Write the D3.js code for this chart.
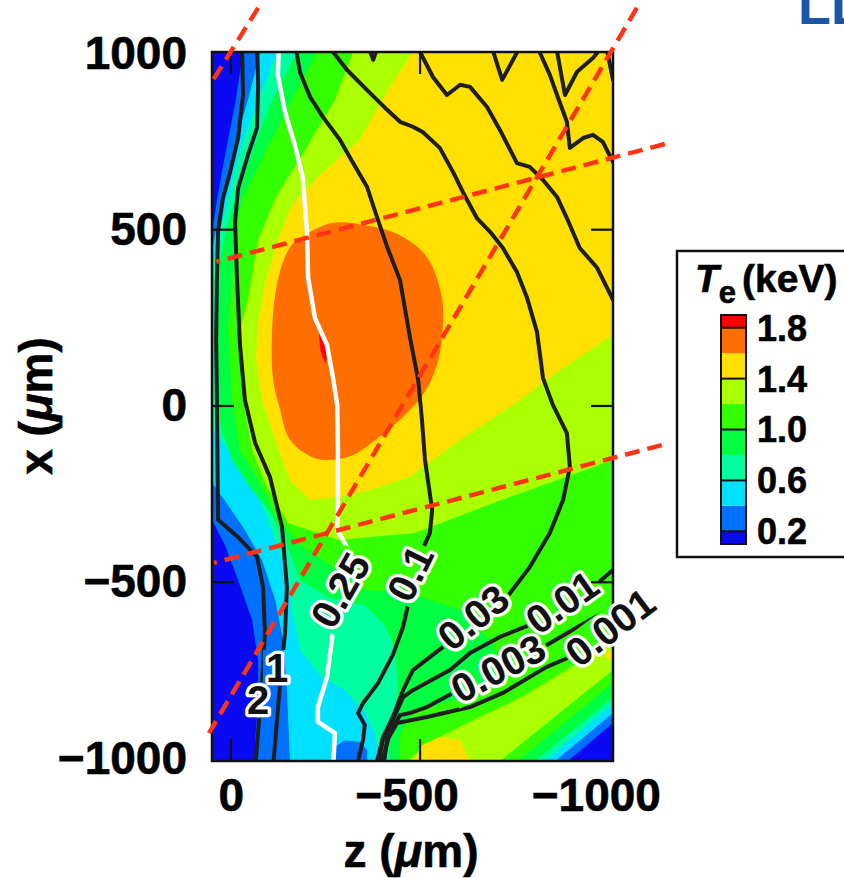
<!DOCTYPE html>
<html>
<head>
<meta charset="utf-8">
<script src="https://cdn.jsdelivr.net/npm/d3@7"></script>
<style>
  body { margin: 0; background: #fff; }
  svg { display: block; font-family: "Liberation Sans", Arial, sans-serif; font-weight: bold; }
  .heavy text, text.heavy { stroke: #000; stroke-width: 0.6px; }
</style>
</head>
<body>
<svg></svg>
<script>
// Te levels (keV) and the colour of each band (index 0 = below first level)
const levels = [0.2, 0.4, 0.6, 0.8, 1.0, 1.2, 1.4, 1.6, 1.8];
const bandColors = ["#0a0af2", "#0070ff", "#00e0ff", "#00ffa0", "#00ff40", "#33ff00", "#aaff00", "#ffe000", "#ff6e00", "#ff0000"];
const legendLabels = [1.8, 1.4, 1.0, 0.6, 0.2];

// Regions where Te >= level, as rings of [z, x] in um
const te02 = [
  [[-32,1038],[-32,1004],[-13,868],[13,726],[37,584],[47,514],[82,471],[82,-281],[50,-323],[16,-394],[-19,-494],[-56,-607],[-72,-721],[-72,-834],[-64,-948],[-72,-1047],[-891,-1047],[-891,-1007],[-1010,-899],[-1042,-899],[-1042,1038]]
];
const te04 = [
  [[-77,1038],[-77,1004],[-45,868],[-6,726],[18,584],[39,499],[50,443],[82,414],[82,-182],[50,-218],[8,-281],[-37,-352],[-82,-437],[-117,-550],[-138,-664],[-148,-806],[-156,-1007],[-156,-1047],[-262,-1047],[-270,-970],[-302,-948],[-341,-953],[-360,-976],[-360,-1047],[-857,-1047],[-857,-1007],[-1010,-871],[-1042,-871],[-1042,1038]]
];
const te06 = [
  [[-122,1038],[-122,1004],[-72,868],[-24,726],[8,584],[29,499],[45,414],[82,386],[82,-40],[50,-60],[16,-111],[-24,-167],[-77,-267],[-117,-380],[-151,-479],[-161,-579],[-183,-692],[-235,-763],[-302,-806],[-354,-868],[-381,-933],[-394,-1007],[-394,-1047],[-830,-1047],[-830,-1007],[-1010,-843],[-1042,-843],[-1042,1038]]
];
const te08 = [
  [[-175,1038],[-175,1004],[-109,868],[-58,726],[-11,584],[13,499],[29,414],[39,216],[39,17],[24,-68],[-3,-153],[-50,-230],[-103,-301],[-143,-380],[-183,-494],[-262,-545],[-354,-565],[-407,-621],[-434,-692],[-442,-806],[-426,-891],[-415,-962],[-420,-1007],[-420,-1047],[-804,-1047],[-804,-1007],[-1010,-826],[-1042,-826],[-1042,1038]]
];
const te10 = [
  [[-228,1038],[-228,1004],[-161,868],[-93,726],[-29,584],[-13,499],[-3,357],[8,216],[-3,17],[-24,-125],[-72,-210],[-117,-309],[-183,-394],[-288,-471],[-354,-522],[-473,-531],[-606,-579],[-693,-672],[-711,-749],[-677,-814],[-560,-843],[-473,-877],[-447,-933],[-447,-1047],[-759,-1047],[-759,-1007],[-1010,-786],[-1042,-786],[-1042,1038]]
];
const te12 = [
  [[-323,1038],[-323,1004],[-275,868],[-196,726],[-119,593],[-72,471],[-45,301],[-24,216],[-32,17],[-56,-125],[-90,-218],[-151,-332],[-283,-380],[-486,-360],[-737,-258],[-1010,-153],[-1042,-153],[-1042,1038]],
  [[-468,-1047],[-468,-1007],[-526,-953],[-632,-896],[-764,-828],[-896,-743],[-1010,-664],[-1042,-664],[-1042,-749],[-1010,-749],[-711,-1007],[-711,-1047]]
];
const te14 = [
  [[-481,1038],[-481,1004],[-415,896],[-341,755],[-235,655],[-161,570],[-124,471],[-93,357],[-72,244],[-66,131],[-82,17],[-117,-96],[-156,-210],[-209,-267],[-288,-258],[-368,-238],[-473,-201],[-606,-96],[-745,3],[-870,102],[-1010,201],[-1042,201],[-1042,1038]],
  [[-481,-1047],[-481,-1007],[-505,-962],[-552,-939],[-606,-948],[-632,-1007],[-632,-1047]],
  [[-986,-709],[-1010,-684],[-1042,-684],[-1042,-726],[-1010,-726]]
];
const te16 = [
  [[-161,457],[-196,485],[-267,519],[-347,514],[-426,494],[-486,457],[-526,409],[-558,306],[-560,221],[-545,116],[-507,31],[-460,-26],[-399,-82],[-309,-145],[-222,-148],[-156,-96],[-130,-11],[-111,79],[-109,216],[-117,315],[-135,400]]
];
const te18 = [
  [[-235,210],[-249,179],[-251,122],[-238,153]]
];
const teRegions = [te02, te04, te06, te08, te10, te12, te14, te16, te18];

// Black contour lines of the second quantity, [z, x] in um
const line2 = [[-29,1030],[-32,882],[-19,760],[2,664],[21,590],[34,494],[37,363],[39,187],[37,17],[34,-323],[-19,-372],[-69,-428],[-85,-514],[-90,-644],[-82,-786],[-64,-1030]];
const line1 = [[-69,1030],[-72,911],[-69,789],[-45,712],[-19,618],[-11,522],[-16,363],[-24,173],[-37,17],[-64,-105],[-103,-201],[-135,-343],[-148,-514],[-143,-644],[-130,-786],[-111,-1030]];
const line025 = [[-127,1030],[-124,939],[-143,834],[-169,740],[-190,647],[-201,494],[-204,363],[-222,250],[-254,173],[-270,79],[-281,3],[-283,-125],[-283,-267],[-281,-352],[-296,-380],[-315,-417],[-270,-621],[-267,-664],[-254,-769],[-230,-854],[-230,-896],[-275,-928],[-270,-1030]];
const line01 = [[-169,1030],[-183,945],[-209,877],[-243,820],[-288,755],[-323,689],[-360,621],[-386,536],[-413,451],[-447,357],[-473,196],[-495,74],[-505,-40],[-513,-153],[-532,-295],[-526,-360],[-500,-423],[-473,-542],[-455,-627],[-428,-706],[-389,-786],[-349,-843],[-336,-871],[-354,-905],[-349,-948],[-331,-1030]];
const line003 = [[-262,1030],[-270,1004],[-307,953],[-360,896],[-413,840],[-447,806],[-481,792],[-507,777],[-552,732],[-587,664],[-613,607],[-650,533],[-685,494],[-719,448],[-756,380],[-783,306],[-809,210],[-825,79],[-851,3],[-888,-77],[-896,-173],[-878,-267],[-843,-360],[-790,-457],[-730,-542],[-560,-684],[-481,-749],[-455,-806],[-428,-882],[-402,-939],[-381,-1030]];
const line001Top = [[-495,1030],[-500,1004],[-534,933],[-571,882],[-606,911],[-632,905],[-677,848],[-711,783],[-756,689],[-790,678],[-825,641],[-862,593],[-888,533],[-922,448],[-968,392],[-1010,301],[-1040,250]];
const line001Bottom = [[-1040,-420],[-1010,-465],[-957,-514],[-790,-621],[-711,-655],[-632,-701],[-579,-749],[-481,-806],[-455,-826],[-428,-891],[-402,-948],[-386,-1030]];
const line0003 = [[-1040,-540],[-1010,-570],[-904,-635],[-835,-678],[-706,-743],[-587,-814],[-518,-854],[-473,-871],[-447,-877],[-420,-928],[-394,-1030]];
const line0001 = [[-1040,-610],[-1010,-644],[-896,-712],[-835,-740],[-719,-814],[-632,-854],[-518,-882],[-439,-899],[-413,-948],[-402,-1030]];
const lineTopV1 = [[-686,1030],[-717,925],[-770,1030]];
const lineTopJ = [[-805,1030],[-843,939],[-862,882],[-888,806],[-896,732],[-931,760],[-957,769],[-983,749],[-1010,692],[-1040,640]];
const lineTopV2 = [[-858,1030],[-883,882],[-915,948],[-957,987],[-990,1030]];
const lineTopEdge = [[-990,1030],[-1010,925]];
const lineTopNotch = [[-360,1030],[-376,982],[-392,1030]];
const blackLines = [line2, line1, line01, line003, line001Top, line001Bottom, line0003, line0001, lineTopV1, lineTopJ, lineTopV2, lineTopEdge, lineTopNotch];

// Contour labels
const labelText = ["0.25", "0.1", "0.03", "0.01", "0.003", "0.001", "1", "2"];
const labelZ = [-288, -473, -640, -875, -706, -1002, -122, -72];
const labelX = [-522, -474, -599, -556, -743, -627, -743, -834];
const labelAngle = [-60, -64, -39, -35, -28, -37, 0, 0];

// Red dashed sight lines, endpoints [z, x]
const dashLines = [
  [[-72,1129],[47,925]],
  [[-1073,1129],[58,-928]],
  [[-1139,-111],[45,-445]],
  [[-1147,743],[39,409]]
];

const zTicks = [0, -500, -1000];
const xTicks = [1000, 500, 0, -500, -1000];

const width = 844, height = 878;
const svg = d3.select("svg").attr("width", width).attr("height", height);

const zScale = d3.scaleLinear().domain([50, -1010]).range([212, 613]);
const xScale = d3.scaleLinear().domain([-1007, 1004]).range([761, 52]);
const [plotLeft, plotRight] = zScale.range();
const [plotBottom, plotTop] = xScale.range();

const defs = svg.append("defs");
defs.append("clipPath").attr("id", "plotClip")
  .append("rect").attr("x", plotLeft).attr("y", plotTop).attr("width", plotRight - plotLeft).attr("height", plotBottom - plotTop);
const mask = defs.append("mask").attr("id", "labelMask")
  .attr("maskUnits", "userSpaceOnUse").attr("x", 0).attr("y", 0).attr("width", width).attr("height", height);
mask.append("rect").attr("width", width).attr("height", height).attr("fill", "#fff");

const path = d3.line().x((d) => zScale(d[0])).y((d) => xScale(d[1]));
const smoothRing = d3.line().x((d) => zScale(d[0])).y((d) => xScale(d[1])).curve(d3.curveCatmullRomClosed.alpha(0.5));

// filled Te bands
const plot = svg.append("g").attr("clip-path", "url(#plotClip)");
plot.append("rect").attr("x", plotLeft).attr("y", plotTop).attr("width", plotRight - plotLeft).attr("height", plotBottom - plotTop)
  .attr("fill", bandColors[0]);
teRegions.forEach((rings, i) => {
  rings.forEach((ring) => {
    plot.append("path")
      .attr("d", i >= 7 ? smoothRing(ring) : path(ring) + "Z")
      .attr("fill", bandColors[i + 1]);
  });
});

// contour lines
const lineLayer = plot.append("g").attr("mask", "url(#labelMask)").attr("fill", "none")
  .attr("stroke-linejoin", "round").attr("stroke-linecap", "round");
blackLines.forEach((l) => {
  lineLayer.append("path").attr("d", path(l)).attr("stroke", "#1e1e1e").attr("stroke-width", 4);
});
lineLayer.append("path").attr("d", path(line025)).attr("stroke", "#fff").attr("stroke-width", 4.5);

// frame and inner ticks
svg.append("rect").attr("x", plotLeft).attr("y", plotTop).attr("width", plotRight - plotLeft).attr("height", plotBottom - plotTop)
  .attr("fill", "none").attr("stroke", "#111").attr("stroke-width", 2.5);
const tickLen = 22;
const ticks = svg.append("g").attr("stroke", "#111").attr("stroke-width", 2.2);
xTicks.filter((v) => Math.abs(v) < 1000).forEach((v) => {
  const y = xScale(v);
  ticks.append("line").attr("x1", plotLeft).attr("x2", plotLeft + tickLen).attr("y1", y).attr("y2", y);
  ticks.append("line").attr("x1", plotRight - tickLen).attr("x2", plotRight).attr("y1", y).attr("y2", y);
});
zTicks.filter((v) => Math.abs(v) < 1000).forEach((v) => {
  const x = zScale(v);
  ticks.append("line").attr("x1", x).attr("x2", x).attr("y1", plotTop).attr("y2", plotTop + tickLen);
  ticks.append("line").attr("x1", x).attr("x2", x).attr("y1", plotBottom - tickLen).attr("y2", plotBottom);
});

// dashed lines
const dashes = svg.append("g").attr("stroke", "#ff3414").attr("stroke-width", 4.5)
  .attr("stroke-dasharray", "15,8").attr("fill", "none");
dashLines.forEach((d) => dashes.append("path").attr("d", path(d)));

// contour labels (with gaps cut in the lines)
const labelSize = 40;
const labels = svg.append("g").attr("font-size", labelSize);
labelText.forEach((t, i) => {
  const tr = `translate(${zScale(labelZ[i])},${xScale(labelX[i])}) rotate(${labelAngle[i]})`;
  const txt = labels.append("text").attr("transform", tr).attr("text-anchor", "middle").attr("dy", "0.36em")
    .attr("fill", "#111").attr("stroke", "#fff").attr("stroke-width", 6.5).attr("stroke-linejoin", "round")
    .attr("paint-order", "stroke").text(t);
  const bb = txt.node().getBBox();
  mask.append("rect").attr("transform", tr).attr("x", bb.x - 3).attr("y", -0.45 * labelSize)
    .attr("width", bb.width + 6).attr("height", 0.9 * labelSize).attr("fill", "#000");
});

// axes
const fmt = d3.format("d");
const yAxis = svg.append("g").attr("class", "heavy").attr("transform", `translate(${plotLeft},0)`)
  .call(d3.axisLeft(xScale).tickValues(xTicks).tickSize(0).tickPadding(25).tickFormat(fmt));
yAxis.attr("font-size", null).attr("font-family", null);
yAxis.select(".domain").remove();
yAxis.selectAll("text").attr("font-size", 46).attr("fill", "#000");

// bottom labels: digits centred on the tick, minus sign hanging to the left
const zAxis = svg.append("g").attr("class", "heavy").attr("transform", `translate(0,${plotBottom})`)
  .call(d3.axisBottom(zScale).tickValues(zTicks).tickSize(0).tickPadding(17).tickFormat(fmt));
zAxis.attr("font-size", null).attr("font-family", null);
zAxis.select(".domain").remove();
zAxis.selectAll("text").attr("font-size", 46).attr("fill", "#000")
  .attr("dx", function (d) { return d < 0 ? -this.getSubStringLength(0, 1) / 2 : 0; });

svg.append("text").attr("class", "heavy").attr("x", 411).attr("y", 867).attr("text-anchor", "middle").attr("font-size", 46)
  .call((t) => {
    t.append("tspan").text("z (");
    t.append("tspan").attr("font-style", "italic").text("\u03bc");
    t.append("tspan").text("m)");
  });
svg.append("text").attr("class", "heavy").attr("transform", "translate(52,406) rotate(-90)").attr("text-anchor", "middle").attr("font-size", 46)
  .call((t) => {
    t.append("tspan").text("x (");
    t.append("tspan").attr("font-style", "italic").text("\u03bc");
    t.append("tspan").text("m)");
  });

// legend
const legend = svg.append("g").attr("class", "heavy");
legend.append("rect").attr("x", 677).attr("y", 251).attr("width", 220).attr("height", 306)
  .attr("fill", "#fff").attr("stroke", "#111").attr("stroke-width", 2.5);
legend.append("text").attr("x", 695).attr("y", 292).attr("font-size", 39)
  .call((t) => {
    t.append("tspan").attr("font-style", "italic").text("T");
    t.append("tspan").attr("font-size", 31).attr("dy", 11).text("e");
    t.append("tspan").attr("dy", -11).attr("dx", 6).text("(keV)");
  });
const cbEdges = [0.1, ...levels, 1.9];
const cbScale = d3.scaleLinear().domain([0.1, 1.9]).range([544, 315]);
const cbX = 721, cbW = 25;
bandColors.forEach((c, i) => {
  legend.append("rect").attr("x", cbX).attr("width", cbW)
    .attr("y", cbScale(cbEdges[i + 1])).attr("height", cbScale(cbEdges[i]) - cbScale(cbEdges[i + 1]))
    .attr("fill", c);
});
legendLabels.forEach((v) => {
  legend.append("line").attr("x1", cbX).attr("x2", cbX + cbW).attr("y1", cbScale(v)).attr("y2", cbScale(v))
    .attr("stroke", "#111").attr("stroke-width", 2);
  legend.append("text").attr("x", 757).attr("y", cbScale(v)).attr("dy", "0.36em").attr("font-size", 36)
    .text(v.toFixed(1));
});
legend.append("rect").attr("x", cbX).attr("y", cbScale(1.9)).attr("width", cbW).attr("height", cbScale(0.1) - cbScale(1.9))
  .attr("fill", "none").attr("stroke", "#111").attr("stroke-width", 2);

// cut-off heading text at top right (as in the source slide)
svg.append("text").attr("x", 798).attr("y", 24).attr("font-size", 54).attr("fill", "#1a55a6").text("LL");
</script>
</body>
</html>
